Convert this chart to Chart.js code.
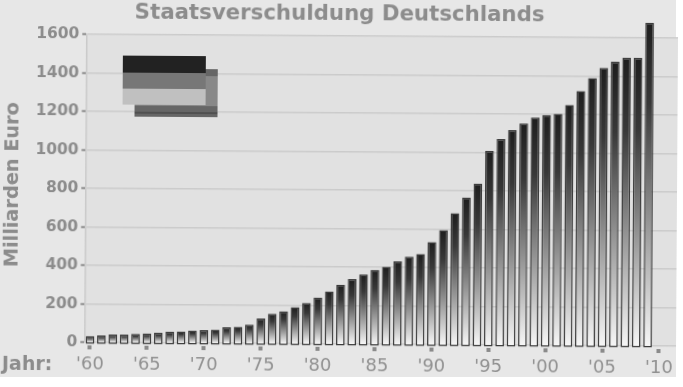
<!DOCTYPE html>
<html>
<head>
<meta charset="utf-8">
<title>Staatsverschuldung Deutschlands</title>
<script src="https://cdn.jsdelivr.net/npm/chart.js@4"></script>
<style>
	html, body { margin: 0; padding: 0; background: #fff; overflow: hidden; }
	#sheet { position: absolute; left: 0; top: 0; width: 676px; height: 377px; background: #e7e7e7; }
	#wrap { position: absolute; left: 0; top: 0; width: 683px; height: 387px; transform: rotate(0.37deg); filter: blur(0.5px); }
</style>
</head>
<body>
<div id="sheet"></div>
<div id="wrap"><canvas id="debtChart" width="683" height="387"></canvas></div>
<script>
const years = [1960, 1961, 1962, 1963, 1964, 1965, 1966, 1967, 1968, 1969,
	1970, 1971, 1972, 1973, 1974, 1975, 1976, 1977, 1978, 1979,
	1980, 1981, 1982, 1983, 1984, 1985, 1986, 1987, 1988, 1989,
	1990, 1991, 1992, 1993, 1994, 1995, 1996, 1997, 1998, 1999,
	2000, 2001, 2002, 2003, 2004, 2005, 2006, 2007, 2008, 2009,
	2010, 2011];
const debt = [32, 36, 42, 42, 45, 48, 52, 58, 60, 65,
	68, 70, 83, 86, 98, 130, 154, 168, 190, 212,
	240, 273, 308, 338, 363, 386, 403, 431, 456, 470,
	533, 595, 684, 765, 838, 1008, 1070, 1118, 1153, 1183,
	1197, 1203, 1250, 1322, 1390, 1443, 1476, 1497, 1497, 1680];
const yTicks = [0, 200, 400, 600, 800, 1000, 1200, 1400, 1600];

const grey = '#8c8c8c';

function barGradient(c) {
	const chart = c.chart;
	if (!chart.chartArea || c.raw == null) {
		return '#333';
	}
	const y = chart.scales.y;
	const g = chart.ctx.createLinearGradient(0, y.getPixelForValue(c.raw), 0, y.getPixelForValue(0));
	g.addColorStop(0, '#1e1e1e');
	g.addColorStop(0.25, '#383838');
	g.addColorStop(1, '#f6f6f6');
	return g;
}

// plot background, the little flag and the "Jahr:" label
const extras = {
	id: 'extras',
	beforeDraw(chart) {
		const a = chart.chartArea;
		chart.ctx.fillStyle = '#e1e1e1';
		chart.ctx.fillRect(a.left, a.top, a.right - a.left, a.bottom - a.top);
	},
	beforeDatasetsDraw(chart) {
		const ctx = chart.ctx;
		ctx.save();
		ctx.fillStyle = '#888';
		ctx.fillRect(134, 70, 83, 48);
		ctx.fillStyle = '#666';
		ctx.fillRect(205, 70, 12, 7);
		ctx.fillRect(134, 107, 83, 11);
		ctx.fillStyle = '#505050';
		ctx.fillRect(134, 113, 83, 2);
		ctx.fillStyle = '#222';
		ctx.fillRect(122, 57, 83, 17);
		ctx.fillStyle = '#777';
		ctx.fillRect(122, 74, 83, 16);
		ctx.fillStyle = '#c0c0c0';
		ctx.fillRect(122, 90, 83, 16);
		ctx.restore();
	},
	afterDraw(chart) {
		const ctx = chart.ctx;
		ctx.save();
		ctx.fillStyle = grey;
		ctx.font = 'bold 19px "DejaVu Sans"';
		ctx.textBaseline = 'middle';
		ctx.fillText('Jahr:', 3, 367);
		ctx.restore();
	}
};

new Chart(document.getElementById('debtChart').getContext('2d'), {
	type: 'bar',
	data: {
		labels: years,
		datasets: [{
			data: debt,
			base: -8,
			clip: false,
			backgroundColor: barGradient,
			borderColor: '#3c3c3c',
			borderWidth: 1.5,
			borderSkipped: false,
			categoryPercentage: 1,
			barPercentage: 0.76
		}]
	},
	options: {
		responsive: false,
		animation: false,
		layout: { padding: { right: 6, bottom: 0 } },
		plugins: {
			legend: { display: false },
			tooltip: { enabled: false },
			title: {
				display: true,
				text: 'Staatsverschuldung Deutschlands',
				color: grey,
				font: { family: '"DejaVu Sans"', size: 21.3, weight: 'bold', lineHeight: 1.1 },
				padding: { top: 3, bottom: 9.7 }
			}
		},
		scales: {
			x: {
				afterFit(scale) { scale.height = 43; },
				grid: {
					offset: false,
					drawOnChartArea: false,
					tickLength: 7,
					tickWidth: 4,
					tickBorderDash: [0, 3, 4, 100],
					tickColor: function(c) {
						return c.tick && years[c.index] % 5 === 0 ? '#8a8a8a' : 'transparent';
					}
				},
				border: { display: false },
				ticks: {
					autoSkip: false,
					maxRotation: 0,
					padding: 5,
					color: '#909090',
					font: { family: '"DejaVu Sans"', size: 18 },
					callback: function(v, i) {
						const y = years[i];
						return y % 5 === 0 ? "'" + String(y).slice(2) : '';
					}
				}
			},
			y: {
				min: 0,
				max: 1600,
				afterFit(scale) { scale.width = 85.3; },
				afterBuildTicks(scale) { scale.ticks = yTicks.map(v => ({ value: v })); },
				title: {
					display: true,
					text: ' Milliarden Euro',
					color: grey,
					font: { family: '"DejaVu Sans"', size: 19.3, weight: 'bold' },
					padding: { top: 1, bottom: 0 }
				},
				grid: { color: '#cbcbcb', lineWidth: 1.5, tickColor: '#8a8a8a', tickLength: 4, tickWidth: 2 },
				border: { color: '#cacaca', width: 1.5 },
				ticks: {
					padding: 3,
					color: grey,
					font: { family: '"DejaVu Sans"', size: 15.5, weight: 'bold' },
					callback: function(v) { return String(v); }
				}
			}
		}
	},
	plugins: [extras]
});
</script>
</body>
</html>
